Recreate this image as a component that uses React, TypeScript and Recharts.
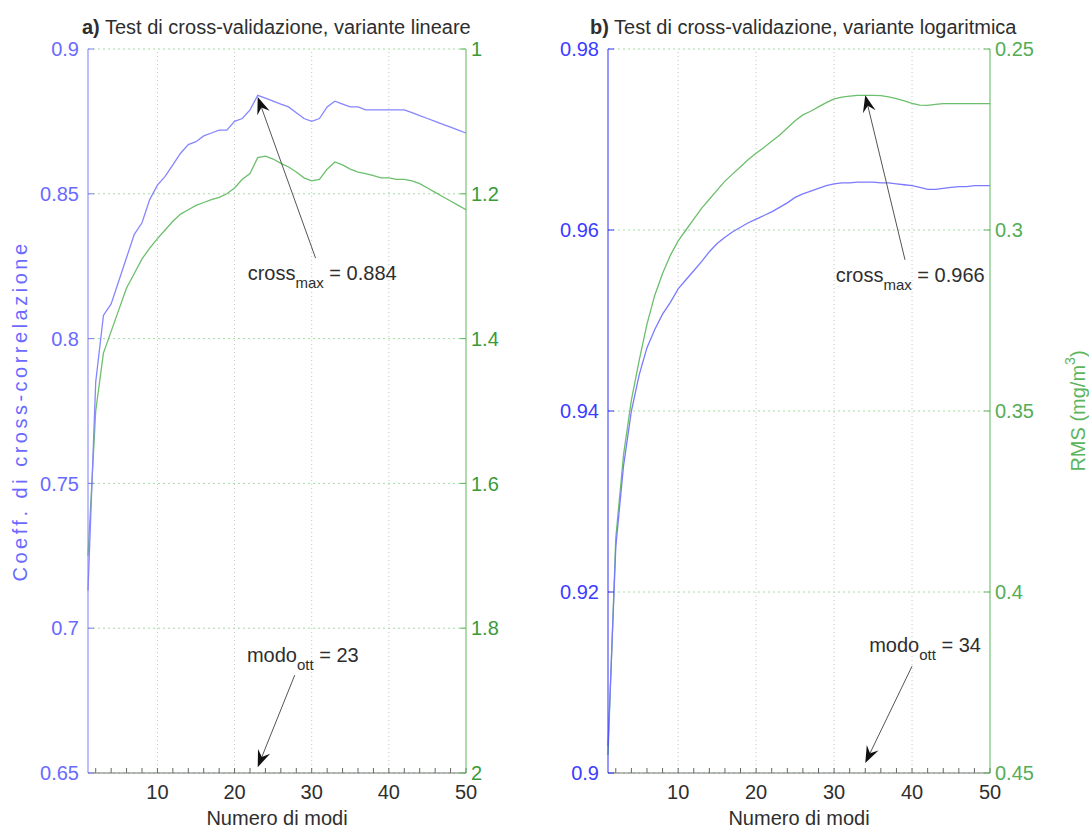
import React from "react";
import {
  CartesianGrid,
  Line,
  LineChart,
  ReferenceDot,
  ReferenceLine,
  XAxis,
  YAxis,
} from "recharts";

// numero di modi
const modes = [
  1, 2, 3, 4, 5, 6, 7, 8, 9, 10, 11, 12, 13, 14, 15, 16, 17, 18, 19, 20, 21, 22, 23, 24, 25,
  26, 27, 28, 29, 30, 31, 32, 33, 34, 35, 36, 37, 38, 39, 40, 41, 42, 43, 44, 45, 46, 47, 48,
  49, 50,
];

// a) variante lineare
const corrLin = [
  0.713, 0.785, 0.808, 0.812, 0.82, 0.828, 0.836, 0.84, 0.848, 0.853, 0.856, 0.86, 0.864,
  0.867, 0.868, 0.87, 0.871, 0.872, 0.872, 0.875, 0.876, 0.879, 0.884, 0.883, 0.882, 0.881,
  0.88, 0.878, 0.876, 0.875, 0.876, 0.88, 0.882, 0.881, 0.88, 0.88, 0.879, 0.879, 0.879,
  0.879, 0.879, 0.879, 0.878, 0.877, 0.876, 0.875, 0.874, 0.873, 0.872, 0.871,
];
const rmsLin = [
  1.7, 1.5, 1.42, 1.39, 1.36, 1.33, 1.31, 1.29, 1.275, 1.262, 1.25, 1.238, 1.228, 1.222,
  1.216, 1.212, 1.208, 1.205, 1.2, 1.192, 1.18, 1.172, 1.15, 1.148, 1.152, 1.158, 1.163,
  1.17, 1.178, 1.182, 1.18, 1.166, 1.156, 1.16, 1.166, 1.17, 1.172, 1.175, 1.178, 1.178,
  1.18, 1.18, 1.182, 1.186, 1.192, 1.198, 1.204, 1.21, 1.216, 1.222,
];

// b) variante logaritmica
const corrLog = [
  0.903, 0.925, 0.934, 0.94, 0.944, 0.947, 0.949, 0.9507, 0.952, 0.9535, 0.9545, 0.9555,
  0.9565, 0.9576, 0.9585, 0.9592, 0.9598, 0.9603, 0.9608, 0.9612, 0.9616, 0.962, 0.9625,
  0.963, 0.9636, 0.964, 0.9643, 0.9646, 0.9649, 0.9651, 0.9652, 0.9652, 0.9653, 0.9653,
  0.9653, 0.9652, 0.9652, 0.9651, 0.965, 0.9649, 0.9647, 0.9645, 0.9645, 0.9646, 0.9647,
  0.9648, 0.9648, 0.9649, 0.9649, 0.9649,
];
const rmsLog = [
  0.445, 0.385, 0.362, 0.347, 0.336, 0.326, 0.318, 0.312, 0.307, 0.303, 0.3, 0.297, 0.294,
  0.2915, 0.289, 0.2865, 0.2845, 0.2825, 0.2805, 0.2788, 0.2772, 0.2755, 0.2738, 0.2718,
  0.2698, 0.2682, 0.2672, 0.266, 0.2648, 0.2638, 0.2633, 0.263, 0.2628, 0.2628, 0.2628,
  0.2629, 0.2632, 0.2637, 0.2643, 0.265, 0.2655, 0.2656, 0.2653, 0.2651, 0.2651, 0.2651,
  0.2651, 0.2651, 0.2651, 0.2651,
];

const xLabelTicks = [10, 20, 30, 40, 50];
const xGridTicks = [10, 20, 30, 40];
const xMinorTicks = [
  2, 4, 6, 8, 10, 12, 14, 16, 18, 20, 22, 24, 26, 28, 30, 32, 34, 36, 38, 40, 42, 44, 46, 48, 50,
];
const corrLinTicks = [0.65, 0.7, 0.75, 0.8, 0.85, 0.9];
const rmsLinTicks = [1, 1.2, 1.4, 1.6, 1.8, 2];
const corrLogTicks = [0.9, 0.92, 0.94, 0.96, 0.98];
const rmsLogTicks = [0.25, 0.3, 0.35, 0.4, 0.45];

const FONT = '"Liberation Sans", Arial, Helvetica, sans-serif';
const TEXT = "#2e2e2e";

function Arrow(props: any) {
  const { x1, y1, x2, y2 } = props;
  const dx = x2 - x1;
  const dy = y2 - y1;
  const len = Math.hypot(dx, dy) || 1;
  const ux = dx / len;
  const uy = dy / len;
  const px = -uy;
  const py = ux;
  const L = 17;
  const W = 6.5;
  const N = 11;
  const bx = x2 - ux * L;
  const by = y2 - uy * L;
  const nx = x2 - ux * N;
  const ny = y2 - uy * N;
  const pts = [
    [x2, y2],
    [bx + px * W, by + py * W],
    [nx, ny],
    [bx - px * W, by - py * W],
  ]
    .map((p) => p.join(","))
    .join(" ");
  return (
    <g>
      <line x1={x1} y1={y1} x2={nx} y2={ny} stroke="#555" strokeWidth={1} />
      <polygon points={pts} fill="#111" />
    </g>
  );
}

function annText(main: string, sub: string, value: string) {
  return (p: any) => (
    <text x={p.cx} y={p.cy} fontSize={20} fill={TEXT} fontFamily={FONT}>
      {main}
      <tspan fontSize={15} dy={8}>
        {sub}
      </tspan>
      <tspan dy={-8}>{" = " + value}</tspan>
    </text>
  );
}

type Ann = {
  crossTail: [number, number];
  crossTip: [number, number];
  crossText: [number, number];
  crossValue: string;
  modoTail: [number, number];
  modoTip: [number, number];
  modoText: [number, number];
  modoValue: string;
};

const annLin: Ann = {
  crossTail: [30.5, 0.8278],
  crossTip: [23, 0.8834],
  crossText: [21.7, 0.8202],
  crossValue: "0.884",
  modoTail: [27.8, 0.6838],
  modoTip: [23, 0.652],
  modoText: [21.6, 0.6883],
  modoValue: "23",
};

const annLog: Ann = {
  crossTail: [39.1, 0.9567],
  crossTip: [34, 0.9749],
  crossText: [30.2, 0.9543],
  crossValue: "0.966",
  modoTail: [40, 0.9118],
  modoTip: [34, 0.9011],
  modoText: [34.5, 0.9134],
  modoValue: "34",
};

type PanelProps = {
  corr: number[];
  rms: number[];
  corrTicks: number[];
  rmsTicks: number[];
  blueLine: string;
  blueAxis: string;
  blueText: string;
  greenText: string;
  width: number;
  margin: { top: number; right: number; left: number; bottom: number };
  leftWidth: number;
  rightWidth: number;
  ann: Ann;
  leftLabel?: string;
  rightLabel?: boolean;
};

const GREEN_LINE = "#6cbf6c";
const GREEN_AXIS = "#5cb55c";

function Panel(p: PanelProps) {
  const data = modes.map((m, i) => ({ m, corr: p.corr[i], rms: p.rms[i] }));
  return (
    <LineChart width={p.width} height={830} data={data} margin={p.margin}>
      <CartesianGrid
        xAxisId="main"
        yAxisId="left"
        vertical={false}
        stroke="#a6daa6"
        strokeDasharray="2 3"
      />
      {xGridTicks.map((v) => (
        <ReferenceLine
          key={v}
          xAxisId="main"
          yAxisId="left"
          x={v}
          stroke="#c4c4c4"
          strokeDasharray="1 3"
        />
      ))}
      <XAxis
        xAxisId="top"
        orientation="top"
        type="number"
        dataKey="m"
        domain={[1, 50]}
        ticks={xGridTicks}
        height={0}
        tick={false}
        tickSize={-6}
        stroke={GREEN_AXIS}
        tickLine={{ stroke: "#555" }}
      />
      <XAxis
        xAxisId="main"
        type="number"
        dataKey="m"
        domain={[1, 50]}
        ticks={xMinorTicks}
        interval={0}
        tickFormatter={(v: number) => (xLabelTicks.includes(v) ? String(v) : "")}
        height={57}
        tickSize={-5}
        tickMargin={17}
        stroke="#777"
        tickLine={{ stroke: "#666" }}
        tick={{ fill: TEXT, fontSize: 20, fontFamily: FONT }}
        label={(lp: any) => {
          const vb = lp.viewBox;
          return (
            <text
              x={vb.x + vb.width / 2}
              y={vb.y + 52}
              textAnchor="middle"
              fontSize={20}
              fill={TEXT}
              fontFamily={FONT}
            >
              Numero di modi
            </text>
          );
        }}
      />
      <YAxis
        yAxisId="left"
        type="number"
        domain={[p.corrTicks[0], p.corrTicks[p.corrTicks.length - 1]]}
        ticks={p.corrTicks}
        interval={0}
        width={p.leftWidth}
        tickSize={-6}
        tickMargin={15}
        stroke={p.blueAxis}
        tick={{ fill: p.blueText, fontSize: 20, fontFamily: FONT }}
        label={(lp: any) => {
          if (!p.leftLabel) return null;
          const vb = lp.viewBox;
          const cx = vb.x - 8;
          const cy = vb.y + vb.height / 2;
          return (
            <text
              x={cx}
              y={cy}
              transform={`rotate(-90, ${cx}, ${cy})`}
              textAnchor="middle"
              dominantBaseline="central"
              fontSize={20}
              letterSpacing={3.5}
              fill={p.blueText}
              fontFamily={FONT}
            >
              {p.leftLabel}
            </text>
          );
        }}
      />
      <YAxis
        yAxisId="right"
        orientation="right"
        type="number"
        reversed
        domain={[p.rmsTicks[0], p.rmsTicks[p.rmsTicks.length - 1]]}
        ticks={p.rmsTicks}
        interval={0}
        width={p.rightWidth}
        tickSize={-6}
        tickMargin={11}
        stroke={GREEN_AXIS}
        tick={{ fill: p.greenText, fontSize: 20, fontFamily: FONT }}
        label={(lp: any) => {
          if (!p.rightLabel) return null;
          const vb = lp.viewBox;
          const cx = vb.x + 88;
          const cy = vb.y + vb.height / 2;
          return (
            <text
              x={cx}
              y={cy}
              transform={`rotate(-90, ${cx}, ${cy})`}
              textAnchor="middle"
              dominantBaseline="central"
              fontSize={20}
              fill={GREEN_AXIS}
              fontFamily={FONT}
            >
              RMS (mg/m
              <tspan fontSize={14} dy={-8}>
                3
              </tspan>
              <tspan dy={8}>)</tspan>
            </text>
          );
        }}
      />
      <Line
        xAxisId="main"
        yAxisId="right"
        type="linear"
        dataKey="rms"
        stroke={GREEN_LINE}
        strokeWidth={1.3}
        dot={false}
        isAnimationActive={false}
      />
      <Line
        xAxisId="main"
        yAxisId="left"
        type="linear"
        dataKey="corr"
        stroke={p.blueLine}
        strokeWidth={1.3}
        dot={false}
        isAnimationActive={false}
      />
      <ReferenceLine
        xAxisId="main"
        yAxisId="left"
        segment={[
          { x: p.ann.crossTail[0], y: p.ann.crossTail[1] },
          { x: p.ann.crossTip[0], y: p.ann.crossTip[1] },
        ]}
        shape={Arrow}
      />
      <ReferenceLine
        xAxisId="main"
        yAxisId="left"
        segment={[
          { x: p.ann.modoTail[0], y: p.ann.modoTail[1] },
          { x: p.ann.modoTip[0], y: p.ann.modoTip[1] },
        ]}
        shape={Arrow}
      />
      <ReferenceDot
        xAxisId="main"
        yAxisId="left"
        x={p.ann.crossText[0]}
        y={p.ann.crossText[1]}
        r={0}
        shape={annText("cross", "max", p.ann.crossValue)}
      />
      <ReferenceDot
        xAxisId="main"
        yAxisId="left"
        x={p.ann.modoText[0]}
        y={p.ann.modoText[1]}
        r={0}
        shape={annText("modo", "ott", p.ann.modoValue)}
      />
    </LineChart>
  );
}

function Title({ left, width, tag, text }: { left: number; width: number; tag: string; text: string }) {
  return (
    <div
      style={{
        position: "absolute",
        left,
        top: 17,
        width,
        textAlign: "center",
        fontFamily: FONT,
        fontSize: 20,
        lineHeight: "20px",
        color: TEXT,
        whiteSpace: "nowrap",
      }}
    >
      <b>{tag}</b> {text}
    </div>
  );
}

export default function App() {
  return (
    <div
      style={{
        position: "absolute",
        left: 0,
        top: 0,
        width: 1089,
        height: 830,
        background: "#fff",
        overflow: "hidden",
      }}
    >
      <div style={{ position: "absolute", left: 0, top: 0 }}>
        <Panel
          corr={corrLin}
          rms={rmsLin}
          corrTicks={corrLinTicks}
          rmsTicks={rmsLinTicks}
          blueLine="#8686ff"
          blueAxis="#7c7cff"
          blueText="#6a6aff"
          greenText="#3a9a3a"
          width={545}
          margin={{ top: 49, right: 29, left: 28, bottom: 0 }}
          leftWidth={60}
          rightWidth={50}
          ann={annLin}
          leftLabel="Coeff. di cross-correlazione"
        />
      </div>
      <div style={{ position: "absolute", left: 545, top: 0 }}>
        <Panel
          corr={corrLog}
          rms={rmsLog}
          corrTicks={corrLogTicks}
          rmsTicks={rmsLogTicks}
          blueLine="#7a7aff"
          blueAxis="#3030ff"
          blueText="#3c3cff"
          greenText="#55ad55"
          width={544}
          margin={{ top: 49, right: 39, left: 8, bottom: 0 }}
          leftWidth={55}
          rightWidth={60}
          ann={annLog}
          rightLabel
        />
      </div>
      <Title left={82} width={388} tag="a)" text=" Test di cross-validazione, variante lineare" />
      <Title left={590} width={420} tag="b)" text="Test di cross-validazione, variante logaritmica" />
    </div>
  );
}
